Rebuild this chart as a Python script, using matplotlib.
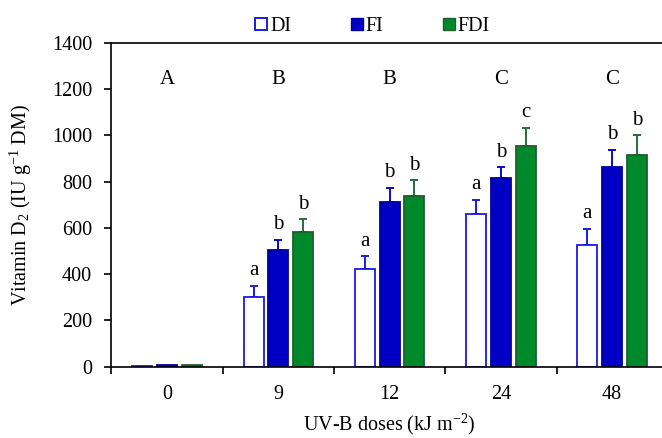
import numpy as np
import matplotlib
matplotlib.use('Agg')
import matplotlib.pyplot as plt
from matplotlib.lines import Line2D

plt.rcParams['font.family'] = ['Liberation Serif', 'DejaVu Serif']
plt.rcParams['mathtext.fontset'] = 'custom'
plt.rcParams['mathtext.rm'] = 'Liberation Serif'
plt.rcParams['mathtext.it'] = 'Liberation Serif:italic'

# UV-B doses and treatments
doses = ['0', '9', '12', '24', '48']
treatments = ['DI', 'FI', 'FDI']

# vitamin D2 means (IU/g DM)
di_mean = [3, 300, 420, 658, 524]
fi_mean = [6, 506, 711, 816, 862]
fdi_mean = [6, 584, 738, 954, 917]

# upper error bar lengths
di_err = [0, 50, 58, 64, 73]
fi_err = [0, 42, 62, 47, 76]
fdi_err = [0, 53, 68, 78, 83]

# significance letters
dose_letters = ['A', 'B', 'B', 'C', 'C']
di_letters = ['', 'a', 'a', 'a', 'a']
fi_letters = ['', 'b', 'b', 'b', 'b']
fdi_letters = ['', 'b', 'b', 'c', 'b']

fig = plt.figure(figsize=(6.62, 4.38), dpi=100)
ax = fig.add_axes([0.1684, 0.1632, 0.8403, 0.7386])

centers = np.arange(len(doses)) + 0.5
width = 0.18
step = 0.222

series = [
    (di_mean, di_err, di_letters, 'white', '#1a1ae6', '#1a1ae6'),
    (fi_mean, fi_err, fi_letters, '#0000c4', '#0000a0', '#0a0ad0'),
    (fdi_mean, fdi_err, fdi_letters, '#00892b', '#1e5e2c', '#2a6b3a'),
]

for k, (mean, err, letters, fill, edge, ecol) in enumerate(series):
    xs = centers + (k - 1) * step
    ax.bar(xs, mean, width, color=fill, edgecolor=edge, linewidth=1.3, zorder=2)
    lo = np.zeros(len(mean))
    hi = np.array(err, dtype=float)
    mask = hi > 0
    ax.errorbar(xs[mask], np.array(mean)[mask], yerr=[lo[mask], hi[mask]],
                fmt='none', ecolor=ecol, elinewidth=1.4, capsize=2.8,
                capthick=1.4, zorder=1)
    for x, m, e, t in zip(xs, mean, err, letters):
        if t:
            ax.annotate(t, (x, m + e), xytext=(0, 4), textcoords='offset points',
                        ha='center', va='bottom', fontsize=15)

for x, t in zip(centers, dose_letters):
    ax.text(x, 1240, t, ha='center', va='center', fontsize=15)

ax.set_xlim(0, 5)
ax.set_ylim(0, 1400)
ax.set_yticks(np.arange(0, 1401, 200))
ax.set_xticks(centers, doses)
ax.set_xticks(np.arange(0, 6), minor=True)
ax.tick_params(axis='x', which='major', length=0, pad=13, labelsize=14.5)
ax.tick_params(axis='x', which='minor', length=5, width=1.2, direction='out')
ax.tick_params(axis='y', length=5, width=1.2, direction='out', pad=9, labelsize=14.5)

for side in ['left', 'bottom', 'top', 'right']:
    ax.spines[side].set_linewidth(1.2)

ax.set_xlabel('UV-B doses (kJ m$^{-2}$)', fontsize=14.5, labelpad=6)
ax.set_ylabel('Vitamin D$_2$ (IU g$^{-1}$ DM)', fontsize=14.5, labelpad=13)

handles = [
    Line2D([], [], ls='none', marker='s', markersize=8.5, markerfacecolor='white',
           markeredgecolor='#1a1ae6', markeredgewidth=1.4),
    Line2D([], [], ls='none', marker='s', markersize=8.5, markerfacecolor='#0000c4',
           markeredgecolor='#0000a0', markeredgewidth=1.0),
    Line2D([], [], ls='none', marker='s', markersize=8.5, markerfacecolor='#00892b',
           markeredgecolor='#1e5e2c', markeredgewidth=1.0),
]
fig.legend(handles, treatments, loc='center', bbox_to_anchor=(0.562, 1 - 26 / 438),
           ncol=3, frameon=False, fontsize=14.5, handlelength=0.7,
           handletextpad=0.1, columnspacing=2.9, borderaxespad=0)

fig.savefig('out.png', dpi=100)
